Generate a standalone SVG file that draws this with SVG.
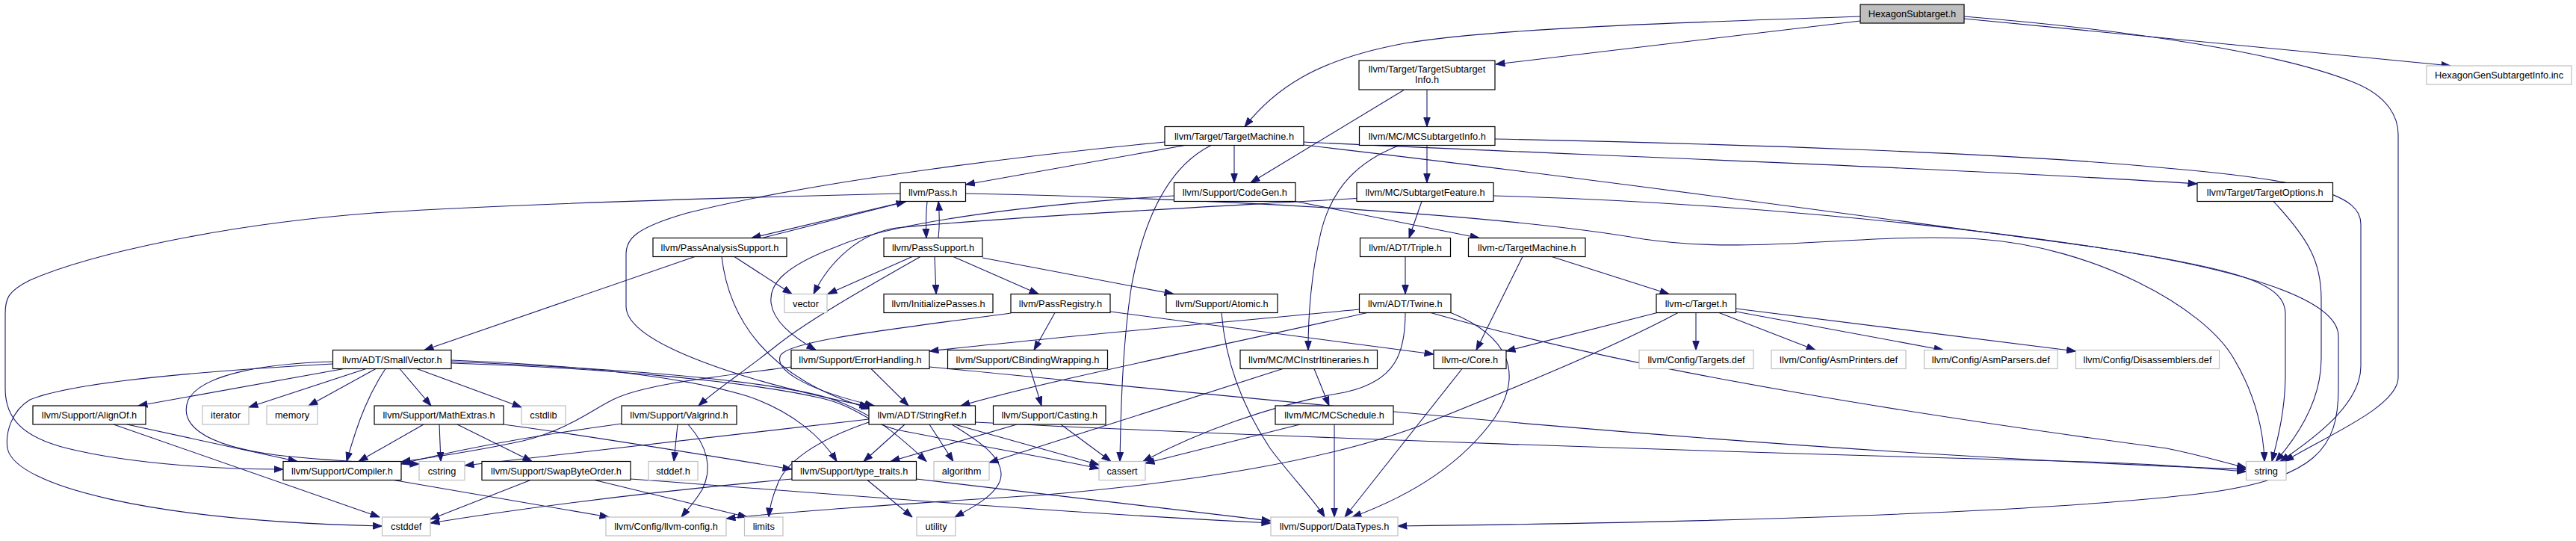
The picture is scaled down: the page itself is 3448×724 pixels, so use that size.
<svg xmlns="http://www.w3.org/2000/svg" width="3448" height="724" viewBox="0 0 3448 724">
<style>
.node rect{fill:#fff;stroke:#000;stroke-width:1.2}
.ext rect{stroke:#bfbfbf}
.root rect{fill:#bfbfbf}
text{font-family:"Liberation Sans",Arial,Helvetica,sans-serif;font-size:12.8px;text-anchor:middle;fill:#000}
#edges path{fill:none;stroke:#191970;stroke-width:1.1;marker-end:url(#a)}
</style>
<defs>
<marker id="a" markerUnits="userSpaceOnUse" markerWidth="13" markerHeight="10" refX="12.5" refY="4.75" orient="auto"><path d="M0.5,0.5 L12.5,4.75 L0.5,9 z" fill="#191970" stroke="#191970" stroke-width="1"/></marker>
</defs>
<rect width="3448" height="724" fill="#fff"/>
<g id="edges">
<path d="M2490,28 L2002,86"/>
<path d="M2490,22 C2250,30 2000,38 1880,58 C1760,80 1705,120 1666,169.5"/>
<path d="M2629,22 C2850,40 3050,70 3150,110 C3200,130 3210,160 3210,180 L3210,505 C3210,545 3110,585 3058,617.5"/>
<path d="M2629,25 L3280,88"/>
<path d="M1910,120.5 L1910,169.5"/>
<path d="M1879,120.5 L1674,244.5"/>
<path d="M1586,194.5 L1292.5,247"/>
<path d="M1652,194.5 L1652,244.5"/>
<path d="M1621,194.5 C1560,225 1530,300 1515,380 C1502,460 1500,560 1499,617.5"/>
<path d="M1559,190 C1400,205 1100,240 920,285 C850,305 838,320 838,340 L838,410 C838,460 1000,512 1163,544"/>
<path d="M1745,190 C2000,203 2600,224 2941,246"/>
<path d="M1745,194 C2100,235 2500,290 2800,330 C3000,360 3059,380 3059,420 L3059,500 C3059,550 3048,590 3041,617.5"/>
<path d="M1910,194.5 L1910,244.5"/>
<path d="M1873,194.5 C1820,215 1780,250 1766,320 C1753,380 1751,430 1751,468.5"/>
<path d="M2001,186 C2300,192 2700,205 2900,225 C3100,242 3160,262 3160,300 L3160,490 C3160,540 3100,585 3052,617.5"/>
<path d="M1903,269.5 L1886,318.5"/>
<path d="M1816,265.5 C1600,278 1350,290 1200,305 C1150,312 1110,350 1089,393.5"/>
<path d="M1999,262 C2300,270 2600,300 2800,330 C3000,360 3130,400 3130,450 L3130,520 C3130,600 3100,640 2950,660 C2700,690 2200,700 1871,704"/>
<path d="M1213,269.5 L1006,318.5"/>
<path d="M1020,318.5 L1212,270"/>
<path d="M1241,269.5 C1239,290 1239,300 1240,318.5"/>
<path d="M1256,318.5 C1258,300 1258,290 1256,269.5"/>
<path d="M1205,259 C1000,264 700,272 500,285 C300,300 120,340 40,375 C10,390 7,400 7,420 L7,520 C7,560 30,585 90,600 C180,622 300,628 379,628"/>
<path d="M1292.5,259 C1600,265 2000,285 2200,320 C2350,342 2500,310 2650,320 C2800,330 2950,410 2990,480 C3020,530 3030,580 3031,617.5"/>
<path d="M1571.5,262 C1400,272 1200,295 1120,330 C1040,360 1030,385 1032,405 C1035,430 1060,450 1092,468.5"/>
<path d="M1734,269.5 L1980,318.5"/>
<path d="M983,343.5 L1060,393.5"/>
<path d="M966,343.5 C975,420 1020,505 1165,547"/>
<path d="M930,343.5 L568,468.5"/>
<path d="M1221,343.5 L1108,393.5"/>
<path d="M1251,343.5 L1253,393.5"/>
<path d="M1276,343.5 L1390,393.5"/>
<path d="M1315,345 L1571,393.5"/>
<path d="M1232,343.5 C1150,390 1080,430 1040,462 C995,498 960,520 935,543"/>
<path d="M1412,418.5 L1384,468.5"/>
<path d="M1353,419 C1200,440 1060,455 1045,475 C1035,495 1080,522 1170,543"/>
<path d="M1486,417 L1919,474"/>
<path d="M1635,418.5 C1640,480 1660,540 1700,600 C1730,640 1760,670 1773,692"/>
<path d="M1881,343.5 L1881,393.5"/>
<path d="M2038,343.5 L1976,468.5"/>
<path d="M2077,343.5 L2234,393.5"/>
<path d="M1819.5,414 C1600,435 1400,452 1244,470"/>
<path d="M1830,418.5 C1600,470 1400,510 1286,543"/>
<path d="M1881,418.5 C1881,470 1870,510 1800,525 C1700,542 1600,580 1530,617.5"/>
<path d="M1915,418.5 C2200,500 2600,560 2900,600 C2950,610 2980,620 3006.5,626"/>
<path d="M1942,418.5 C2020,450 2040,500 2000,560 C1950,630 1870,670 1810,692"/>
<path d="M2270,418.5 L2270,468.5"/>
<path d="M2301,418.5 L2430,468.5"/>
<path d="M2323.5,417 L2601,468.5"/>
<path d="M2323.5,413 L2778.5,470"/>
<path d="M2218,418.5 L2016,470"/>
<path d="M2246,418.5 C2150,470 2000,530 1900,570 C1780,615 1600,645 1400,662 C1200,675 1050,685 972,694"/>
<path d="M1759,493.5 L1779,543"/>
<path d="M1717,493.5 C1600,530 1450,580 1324,619"/>
<path d="M1786,568 L1786,692"/>
<path d="M1740,568 L1533,620"/>
<path d="M1957,493.5 L1800,692"/>
<path d="M1166,493.5 L1216,543"/>
<path d="M1059,491 C950,505 860,515 820,535 C790,550 760,575 700,590 C640,603 580,612 537,618"/>
<path d="M1244,491 C1600,525 2200,590 2794,619 C2900,624 2960,627 3006.5,628"/>
<path d="M1211,568 L1156,617.5"/>
<path d="M1244,568 L1276,617.5"/>
<path d="M1274,568 C1310,590 1340,610 1340,635 C1340,660 1300,680 1278,692"/>
<path d="M1278,568 L1471,622"/>
<path d="M1305.5,565 C1700,585 2300,605 2794,618 C2900,621 2960,628 3006.5,631"/>
<path d="M1163,561 L622,623"/>
<path d="M1163,565 C1090,590 1050,620 1040,650 C1032,670 1030,680 1029,692"/>
<path d="M1361,568 L1192,617.5"/>
<path d="M1420,568 L1487,617.5"/>
<path d="M1379,493.5 L1394,543"/>
<path d="M832,567 C700,585 600,605 537,621"/>
<path d="M907,568 L902,617.5"/>
<path d="M921,568 C945,595 955,625 940,655 C930,672 920,682 912,692"/>
<path d="M460,493.5 L185,543"/>
<path d="M490,493.5 L333,545"/>
<path d="M503,493.5 L413,543"/>
<path d="M516,493.5 C495,525 480,560 464,617.5"/>
<path d="M535,493.5 L577,543"/>
<path d="M558,493.5 L698,545"/>
<path d="M445.5,484 C360,486 270,500 252,535 C240,565 265,595 370,609 C450,618 520,620 561,621"/>
<path d="M445.5,487 C300,495 100,510 40,535 C15,550 7,580 10,600 C20,650 200,697 511.5,704"/>
<path d="M604,482 C750,488 900,500 1000,530 C1060,550 1100,585 1120,617.5"/>
<path d="M604,484 C800,492 1000,505 1100,530 C1170,550 1210,590 1240,617.5"/>
<path d="M604,486 C800,492 1000,510 1100,533 C1150,545 1160,565 1200,575 C1300,595 1400,612 1471,627"/>
<path d="M170,568 L398,617.5"/>
<path d="M152,568 L508,692"/>
<path d="M567,568 L480,617.5"/>
<path d="M588,568 L590,617.5"/>
<path d="M612,568 L712,617.5"/>
<path d="M674,568 C800,585 950,610 1060,628"/>
<path d="M527,642.5 L815,692"/>
<path d="M710,642.5 L576,695"/>
<path d="M796,642.5 L1000,692"/>
<path d="M844,641 C1100,660 1400,685 1701,700"/>
<path d="M1161,642.5 L1221,692"/>
<path d="M1060,641 C850,660 700,680 576,700"/>
<path d="M1226.5,641 C1400,660 1550,680 1701,697"/>
<path d="M3043,269.5 C3090,320 3107,350 3107,400 L3107,480 C3107,540 3070,590 3046,617.5"/>
</g>
<g id="n_hex" class="node root"><rect x="2490" y="6" width="139" height="25"/><text x="2559.5" y="23">HexagonSubtarget.h</text></g>
<g id="n_tsi" class="node"><rect x="1819" y="81" width="182" height="39"/><text x="1910" y="96.5">llvm/Target/TargetSubtarget</text><text x="1910" y="110.5">Info.h</text></g>
<g id="n_inc" class="node ext"><rect x="3248" y="88" width="194" height="25"/><text x="3345" y="105">HexagonGenSubtargetInfo.inc</text></g>
<g id="n_tm" class="node"><rect x="1559" y="169.5" width="186" height="25"/><text x="1652" y="186.5">llvm/Target/TargetMachine.h</text></g>
<g id="n_mcsi" class="node"><rect x="1819.5" y="169.5" width="181.5" height="25"/><text x="1910.25" y="186.5">llvm/MC/MCSubtargetInfo.h</text></g>
<g id="n_pass" class="node"><rect x="1205" y="244.5" width="87.5" height="25"/><text x="1248.75" y="261.5">llvm/Pass.h</text></g>
<g id="n_codegen" class="node"><rect x="1571.5" y="244.5" width="162.5" height="25"/><text x="1652.75" y="261.5">llvm/Support/CodeGen.h</text></g>
<g id="n_stf" class="node"><rect x="1816" y="244.5" width="183" height="25"/><text x="1907.5" y="261.5">llvm/MC/SubtargetFeature.h</text></g>
<g id="n_topt" class="node"><rect x="2941" y="244.5" width="181.5" height="25"/><text x="3031.75" y="261.5">llvm/Target/TargetOptions.h</text></g>
<g id="n_pas" class="node"><rect x="874" y="318.5" width="179" height="25"/><text x="963.5" y="335.5">llvm/PassAnalysisSupport.h</text></g>
<g id="n_ps" class="node"><rect x="1183" y="318.5" width="132" height="25"/><text x="1249" y="335.5">llvm/PassSupport.h</text></g>
<g id="n_triple" class="node"><rect x="1820.5" y="318.5" width="121" height="25"/><text x="1881" y="335.5">llvm/ADT/Triple.h</text></g>
<g id="n_ctm" class="node"><rect x="1965.5" y="318.5" width="156.5" height="25"/><text x="2043.75" y="335.5">llvm-c/TargetMachine.h</text></g>
<g id="n_vector" class="node ext"><rect x="1050" y="393.5" width="57" height="25"/><text x="1078.5" y="410.5">vector</text></g>
<g id="n_init" class="node"><rect x="1183" y="393.5" width="146" height="25"/><text x="1256" y="410.5">llvm/InitializePasses.h</text></g>
<g id="n_preg" class="node"><rect x="1353" y="393.5" width="133" height="25"/><text x="1419.5" y="410.5">llvm/PassRegistry.h</text></g>
<g id="n_atomic" class="node"><rect x="1561" y="393.5" width="149" height="25"/><text x="1635.5" y="410.5">llvm/Support/Atomic.h</text></g>
<g id="n_twine" class="node"><rect x="1819.5" y="393.5" width="122.5" height="25"/><text x="1880.75" y="410.5">llvm/ADT/Twine.h</text></g>
<g id="n_ctarget" class="node"><rect x="2217" y="393.5" width="106.5" height="25"/><text x="2270.25" y="410.5">llvm-c/Target.h</text></g>
<g id="n_sv" class="node"><rect x="445.5" y="468.5" width="158.5" height="25"/><text x="524.75" y="485.5">llvm/ADT/SmallVector.h</text></g>
<g id="n_eh" class="node"><rect x="1059" y="468.5" width="185" height="25"/><text x="1151.5" y="485.5">llvm/Support/ErrorHandling.h</text></g>
<g id="n_cbw" class="node"><rect x="1268.5" y="468.5" width="214" height="25"/><text x="1375.5" y="485.5">llvm/Support/CBindingWrapping.h</text></g>
<g id="n_mcii" class="node"><rect x="1660" y="468.5" width="183.5" height="25"/><text x="1751.75" y="485.5">llvm/MC/MCInstrItineraries.h</text></g>
<g id="n_core" class="node"><rect x="1919" y="468.5" width="97" height="25"/><text x="1967.5" y="485.5">llvm-c/Core.h</text></g>
<g id="n_targets" class="node ext"><rect x="2194" y="468.5" width="153" height="25"/><text x="2270.5" y="485.5">llvm/Config/Targets.def</text></g>
<g id="n_asmp" class="node ext"><rect x="2371" y="468.5" width="180" height="25"/><text x="2461" y="485.5">llvm/Config/AsmPrinters.def</text></g>
<g id="n_asmpa" class="node ext"><rect x="2575.5" y="468.5" width="178.5" height="25"/><text x="2664.75" y="485.5">llvm/Config/AsmParsers.def</text></g>
<g id="n_dis" class="node ext"><rect x="2778.5" y="468.5" width="192" height="25"/><text x="2874.5" y="485.5">llvm/Config/Disassemblers.def</text></g>
<g id="n_alignof" class="node"><rect x="44" y="543" width="151" height="25"/><text x="119.5" y="560">llvm/Support/AlignOf.h</text></g>
<g id="n_iterator" class="node ext"><rect x="271" y="543" width="62" height="25"/><text x="302" y="560">iterator</text></g>
<g id="n_memory" class="node ext"><rect x="357" y="543" width="68" height="25"/><text x="391" y="560">memory</text></g>
<g id="n_mathx" class="node"><rect x="501" y="543" width="173" height="25"/><text x="587.5" y="560">llvm/Support/MathExtras.h</text></g>
<g id="n_cstdlib" class="node ext"><rect x="698" y="543" width="59" height="25"/><text x="727.5" y="560">cstdlib</text></g>
<g id="n_valgrind" class="node"><rect x="832" y="543" width="154" height="25"/><text x="909" y="560">llvm/Support/Valgrind.h</text></g>
<g id="n_sref" class="node"><rect x="1163" y="543" width="142.5" height="25"/><text x="1234.25" y="560">llvm/ADT/StringRef.h</text></g>
<g id="n_casting" class="node"><rect x="1329.5" y="543" width="150.5" height="25"/><text x="1404.75" y="560">llvm/Support/Casting.h</text></g>
<g id="n_mcsched" class="node"><rect x="1707" y="543" width="158" height="25"/><text x="1786" y="560">llvm/MC/MCSchedule.h</text></g>
<g id="n_compiler" class="node"><rect x="379" y="617.5" width="158" height="25"/><text x="458" y="634.5">llvm/Support/Compiler.h</text></g>
<g id="n_cstring" class="node ext"><rect x="561" y="617.5" width="61" height="25"/><text x="591.5" y="634.5">cstring</text></g>
<g id="n_swap" class="node"><rect x="645" y="617.5" width="199" height="25"/><text x="744.5" y="634.5">llvm/Support/SwapByteOrder.h</text></g>
<g id="n_stddef" class="node ext"><rect x="868" y="617.5" width="66" height="25"/><text x="901" y="634.5">stddef.h</text></g>
<g id="n_tt" class="node"><rect x="1060" y="617.5" width="166.5" height="25"/><text x="1143.25" y="634.5">llvm/Support/type_traits.h</text></g>
<g id="n_algorithm" class="node ext"><rect x="1250" y="617.5" width="74" height="25"/><text x="1287" y="634.5">algorithm</text></g>
<g id="n_cassert" class="node ext"><rect x="1471" y="617.5" width="62" height="25"/><text x="1502" y="634.5">cassert</text></g>
<g id="n_string" class="node ext"><rect x="3006.5" y="617.5" width="53.5" height="25"/><text x="3033.25" y="634.5">string</text></g>
<g id="n_cstddef" class="node ext"><rect x="511.5" y="692" width="64.5" height="25"/><text x="543.75" y="709">cstddef</text></g>
<g id="n_llvmconfig" class="node ext"><rect x="811" y="692" width="161" height="25"/><text x="891.5" y="709">llvm/Config/llvm-config.h</text></g>
<g id="n_limits" class="node ext"><rect x="996.5" y="692" width="51.5" height="25"/><text x="1022.25" y="709">limits</text></g>
<g id="n_utility" class="node ext"><rect x="1227" y="692" width="52" height="25"/><text x="1253" y="709">utility</text></g>
<g id="n_datatypes" class="node ext"><rect x="1701" y="692" width="170" height="25"/><text x="1786" y="709">llvm/Support/DataTypes.h</text></g>
</svg>
